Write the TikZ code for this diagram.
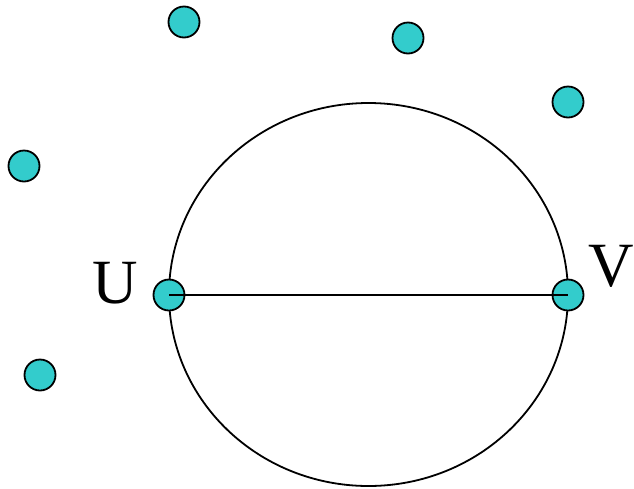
\documentclass[tikz,border=0pt]{standalone}
\usepackage{fontspec}
\setmainfont{Liberation Serif}
\usepackage{tikz}
\usetikzlibrary{positioning}
\definecolor{dotclr}{RGB}{51,204,204}
\tikzset{
    vtx/.style={circle,draw,line width=1.8pt,fill=dotclr,minimum size=31pt,inner sep=0pt},
    lbl/.style={font=\fontsize{63}{63}\selectfont,inner sep=0pt},
    edge/.style={line width=1.8pt},
}
\begin{document}
\begin{tikzpicture}[x=1pt,y=-1pt]
\useasboundingbox (0,0) rectangle (634,488);
% the big circle
\draw[edge] (368.5,294.5) ellipse [x radius=199.5pt, y radius=191.5pt];

% loose points
\node[vtx] (p1) at (184,22)  {};
\node[vtx] (p2) at (408,38)  {};
\node[vtx] (p3) at (568,102) {};
\node[vtx] (p4) at (24,166)  {};
\node[vtx] (p5) at (40,375)  {};

% the two ends
\node[vtx] (U) at (169,295) {};
\node[vtx] (V) at (568,295) {};
\node[lbl] (Ulbl) at (115,283) {U};
\node[lbl] (Vlbl) at (611,266) {V};

% wiring
\draw[edge] (U.center) -- (V.center);
\end{tikzpicture}
\end{document}
